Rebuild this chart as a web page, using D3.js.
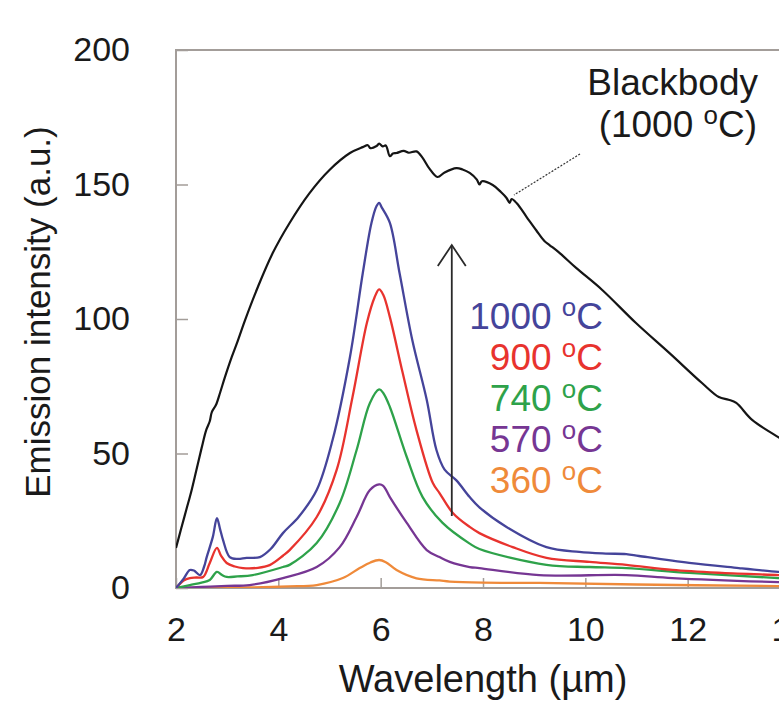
<!DOCTYPE html>
<html>
<head>
<meta charset="utf-8">
<script src="https://cdn.jsdelivr.net/npm/d3@7"></script>
<style>
  body { margin: 0; background: #fff; }
  svg { display: block; font-family: "Liberation Sans", Arial, sans-serif; }
</style>
</head>
<body>
<svg id="chart" width="779" height="722"></svg>
<script>
// tick values
var xTicks = [2, 4, 6, 8, 10, 12, 14];
var yTicks = [0, 50, 100, 150, 200];

// spectra, [wavelength (um), intensity (a.u.)]
var blackbody = [[2.0,14.9],[2.1,22],[2.2,29],[2.3,36],[2.4,44],[2.5,52],[2.59,58.7],[2.66,62],[2.7,65.4],[2.78,68],
  [2.86,72.5],[2.95,78],[3.09,85.9],[3.2,91.5],[3.35,99.6],[3.6,111.9],[3.89,124.5],[4.22,135.7],[4.61,146.8],[5.0,155.4],
  [5.4,161.7],[5.65,163.9],[5.75,164.6],[5.8,163.5],[5.92,164.3],[5.97,165.2],[6.04,164.2],[6.1,164.5],[6.18,160.5],
  [6.24,161.5],[6.31,161.7],[6.45,162.5],[6.55,161.8],[6.7,162.3],[6.82,159.9],[6.95,156],[7.11,152.8],[7.25,154.5],
  [7.48,156.1],[7.6,155.6],[7.74,154.3],[7.88,151.8],[7.93,150],[7.98,151.2],[8.19,149.8],[8.35,147.2],[8.46,145],
  [8.52,143.2],[8.56,144.6],[8.66,143],[8.85,138],[9.04,133],[9.2,129],[9.3,127.5],[9.5,124.5],[9.82,119],[10.33,110.8],
  [10.99,98.5],[11.64,87.4],[12.28,76.2],[12.61,71],[12.8,70],[12.95,68.8],[13.26,62.5],[13.77,56.1],[14,53.5]];

var t1000 = [[2.0,0],[2.15,3.5],[2.27,6.7],[2.35,6.5],[2.47,4.8],[2.55,8],[2.6,11.5],[2.72,19],[2.8,26],[2.86,22],
  [2.92,17.8],[3.05,11.5],[3.2,10.8],[3.38,11.2],[3.64,11.5],[3.85,14.5],[4.09,20.4],[4.4,26.5],[4.75,36.4],[5.06,55],
  [5.4,85.9],[5.65,117],[5.82,135.7],[5.92,142],[5.97,143.2],[6.02,141.5],[6.18,135.7],[6.37,117],[6.62,92],[6.9,70],
  [7.09,51.3],[7.25,44],[7.48,40],[7.74,33.8],[7.93,30],[8.46,22.7],[9.24,15.2],[9.88,13.4],[10.4,12.8],[10.8,12.6],
  [11.05,11.9],[12.03,9.3],[13.0,7.4],[13.77,6],[14,5.7]];

var t900 = [[2.0,0],[2.15,2.8],[2.27,3.7],[2.4,3.9],[2.53,4.1],[2.66,9.3],[2.8,14.9],[2.88,12],[2.99,9.3],[3.15,8],
  [3.31,7.4],[3.6,7.5],[3.83,8.5],[4.09,12],[4.22,14.1],[4.75,26.4],[5.14,43.9],[5.45,71],[5.73,98.5],[5.88,108],
  [5.97,111],[6.05,109],[6.18,100.7],[6.43,80],[6.7,58.7],[7.02,39],[7.15,35.3],[7.41,27.9],[7.74,22.7],[7.93,20.4],
  [8.58,15.2],[9.24,11.2],[10.08,9.7],[10.8,8.6],[11.7,6.7],[12.67,5.6],[13.77,4.8],[14,4.6]];

var t740 = [[2.0,0],[2.27,1.1],[2.5,2.0],[2.66,3.0],[2.8,6.0],[2.9,4.8],[2.99,4.1],[3.2,4.3],[3.5,4.8],[4.09,7.8],
  [4.22,8.6],[4.75,16.7],[5.2,31.6],[5.53,51.3],[5.79,68.8],[5.97,73.8],[6.05,72.5],[6.18,67.3],[6.51,48.7],[6.82,33.8],
  [7.21,24.2],[7.74,16.5],[7.93,14.5],[9.24,8.6],[10.08,7.8],[10.8,7.4],[12.03,5.6],[13.77,3.7],[14,3.5]];

var t570 = [[2.0,0],[2.5,0.4],[3.0,0.8],[3.44,1.1],[4.09,3.7],[4.75,7.8],[5.2,15.2],[5.53,26.4],[5.79,36.4],[5.97,38.5],
  [6.05,38],[6.18,33.8],[6.51,24.2],[6.9,14.1],[7.15,11.5],[7.35,9.7],[7.74,7.8],[7.93,7.4],[9.1,4.8],[10.8,4.8],
  [11.7,3.7],[13.77,2.2],[14,2.1]];

var t360 = [[2.0,0],[3.44,0.2],[4.2,0.6],[4.75,1.1],[5.26,3.7],[5.59,7.4],[5.8,9.5],[5.97,10.4],[6.1,9.6],[6.31,6.7],
  [6.7,3.6],[7.15,2.8],[7.35,2.4],[8,2.0],[9.1,1.9],[11,1.3],[13.77,0.7],[14,0.7]];

var seriesNames = ["1000 \u00b0C", "900 \u00b0C", "740 \u00b0C", "570 \u00b0C", "360 \u00b0C"];
var seriesData = [t1000, t900, t740, t570, t360];
var seriesColors = ["#45449a", "#e8332e", "#2ea24a", "#763693", "#ef8a3a"];

var svg = d3.select("#chart");
var plotLeft = 176, plotTop = 50, plotBottom = 588, plotRight = 790;

var x = d3.scaleLinear().domain([2, 14]).range([plotLeft, plotRight]);
var y = d3.scaleLinear().domain([0, 200]).range([plotBottom, plotTop]);

var frameColor = "#a39d99";
var inkColor = "#1a1a1a";

// frame (left, top, bottom; right side is cut off)
svg.append("path")
  .attr("d", "M" + plotRight + "," + plotTop + "H" + plotLeft + "V" + plotBottom + "H" + plotRight)
  .attr("fill", "none").attr("stroke", frameColor).attr("stroke-width", 2);

// x axis, ticks pointing inwards
var xAxis = svg.append("g").attr("transform", "translate(0," + plotBottom + ")")
  .call(d3.axisBottom(x).tickValues(xTicks).tickSize(-10).tickPadding(29).tickFormat(d3.format("d")));
xAxis.select(".domain").remove();
xAxis.selectAll(".tick line").attr("stroke", frameColor).attr("stroke-width", 1.5);
xAxis.selectAll(".tick text").attr("font-size", 34).attr("fill", inkColor)
  .attr("font-family", "Liberation Sans, Arial, sans-serif");

var yAxis = svg.append("g").attr("transform", "translate(" + plotLeft + ",0)")
  .call(d3.axisLeft(y).tickValues(yTicks).tickSize(-12).tickPadding(46));
yAxis.select(".domain").remove();
yAxis.selectAll(".tick line").attr("stroke", frameColor).attr("stroke-width", 1.5);
yAxis.selectAll(".tick text").attr("font-size", 34).attr("fill", inkColor)
  .attr("font-family", "Liberation Sans, Arial, sans-serif");

// axis titles
svg.append("text").attr("x", 483).attr("y", 692).attr("text-anchor", "middle")
  .attr("font-size", 38).attr("fill", inkColor).text("Wavelength (\u00b5m)");
svg.append("text").attr("transform", "translate(50,312) rotate(-90)").attr("text-anchor", "middle")
  .attr("font-size", 35).attr("fill", inkColor).text("Emission intensity (a.u.)");

// curves
svg.append("clipPath").attr("id", "plotclip").append("rect")
  .attr("x", plotLeft).attr("y", plotTop - 5).attr("width", plotRight - plotLeft).attr("height", plotBottom - plotTop + 5);

var line = d3.line().x(function(d) { return x(d[0]); }).y(function(d) { return y(d[1]); })
  .curve(d3.curveCatmullRom.alpha(0.5));

var curves = svg.append("g").attr("clip-path", "url(#plotclip)");
for (var i = seriesData.length - 1; i >= 0; i--) {
  curves.append("path").datum(seriesData[i]).attr("d", line)
    .attr("fill", "none").attr("stroke", seriesColors[i]).attr("stroke-width", 2.3);
}
curves.append("path").datum(blackbody).attr("d", line)
  .attr("fill", "none").attr("stroke", "#151515").attr("stroke-width", 2.2).attr("stroke-linejoin", "round");

// arrow showing rising temperature
var ax = x(7.39), ay1 = y(26.8), ay2 = y(127.5);
svg.append("line").attr("x1", ax).attr("x2", ax).attr("y1", ay1).attr("y2", ay2)
  .attr("stroke", "#2a2a2a").attr("stroke-width", 1.8);
svg.append("path").attr("d", "M" + (ax - 14) + "," + (ay2 + 21) + "L" + ax + "," + ay2 + "L" + (ax + 14) + "," + (ay2 + 21))
  .attr("fill", "none").attr("stroke", "#2a2a2a").attr("stroke-width", 1.8);

// temperature labels, degree written as superscript o
function degreeText(sel, label) {
  var parts = label.split(" \u00b0");
  sel.append("tspan").text(parts[0] + " ");
  sel.append("tspan").attr("font-size", "0.7em").attr("dy", "-0.5em").text("o");
  sel.append("tspan").attr("dy", "0.35em").text(parts[1]);
}

seriesNames.forEach(function(n, i) {
  var t = svg.append("text").attr("x", 603).attr("y", 329 + i * 41).attr("text-anchor", "end")
    .attr("font-size", 37).attr("fill", seriesColors[i]);
  degreeText(t, n);
});

// blackbody label
svg.append("text").attr("x", 758).attr("y", 95).attr("text-anchor", "end")
  .attr("font-size", 37).attr("fill", inkColor).text("Blackbody");
var bb = svg.append("text").attr("x", 757).attr("y", 137).attr("text-anchor", "end")
  .attr("font-size", 37).attr("fill", inkColor);
degreeText(bb, "(1000 \u00b0C)");

svg.append("line").attr("x1", 580).attr("y1", 154).attr("x2", 514).attr("y2", 195)
  .attr("stroke", "#333").attr("stroke-width", 1.2).attr("stroke-dasharray", "2,1.5");
</script>
</body>
</html>
